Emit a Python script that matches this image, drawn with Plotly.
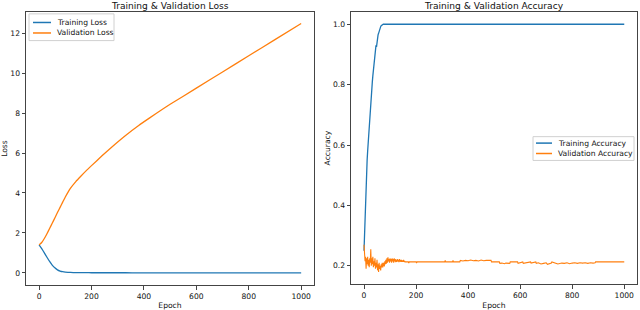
import plotly.graph_objects as go

# ---- data ----
loss_epochs = [0, 10, 20, 30, 40, 50, 60, 70, 80, 90, 100, 110, 120, 140, 160, 180, 200,
               240, 280, 330, 380, 422, 500, 600, 700, 800, 900, 1000]
train_loss = [1.40, 1.21, 1.00, 0.78, 0.57, 0.39, 0.25, 0.15, 0.09, 0.055,
              0.035, 0.025, 0.018, 0.011, 0.008, 0.006, 0.005, 0.004, 0.003, 0.003,
              0.002, 0.002, 0.002, 0.001, 0.001, 0.001, 0.001, 0.001]
val_loss = [1.40, 1.52, 1.72, 1.96, 2.22, 2.48, 2.75, 3.02, 3.28, 3.54,
            3.80, 4.03, 4.24, 4.57, 4.85, 5.12, 5.37, 5.86, 6.33, 6.88,
            7.38, 7.76, 8.44, 9.25, 10.06, 10.87, 11.68, 12.49]

acc_epochs = [0, 2, 4, 6, 8, 10, 12, 14, 16, 18, 20, 22, 24, 26, 28, 30, 32, 34, 36, 38,
              40, 42, 44, 46, 48, 50, 52, 54, 56, 58, 60, 62, 64, 66, 68, 70, 72, 74, 76,
              80, 100, 200, 400, 600, 800, 1000]
train_acc = [0.25, 0.31, 0.37, 0.42, 0.47, 0.51, 0.55, 0.58, 0.61, 0.64,
             0.67, 0.70, 0.72, 0.75, 0.77, 0.79, 0.81, 0.83, 0.85, 0.86,
             0.875, 0.89, 0.91, 0.93, 0.925, 0.945, 0.955, 0.965, 0.97, 0.978,
             0.984, 0.988, 0.992, 0.995, 0.997, 0.998, 0.999, 1.0, 1.0,
             1.0, 1.0, 1.0, 1.0, 1.0, 1.0, 1.0]

# validation accuracy, epochs 0..160 every 2 epochs
val_epochs_early = list(range(0, 161, 2))
val_acc_early = [
    0.270, 0.245, 0.215, 0.230, 0.190, 0.225, 0.205, 0.230, 0.200, 0.220,   # 0-18
    0.195, 0.225, 0.210, 0.255, 0.200, 0.225, 0.205, 0.230, 0.195, 0.215,   # 20-38
    0.200, 0.225, 0.190, 0.210, 0.195, 0.220, 0.185, 0.205, 0.180, 0.210,   # 40-58
    0.190, 0.200, 0.185, 0.205, 0.195, 0.210, 0.195, 0.205, 0.210, 0.198,   # 60-78
    0.215, 0.205, 0.220, 0.207, 0.225, 0.210, 0.228, 0.215, 0.222, 0.210,   # 80-98
    0.225, 0.215, 0.222, 0.210, 0.225, 0.215, 0.222, 0.210, 0.225, 0.215,   # 100-118
    0.222, 0.212, 0.220, 0.213, 0.222, 0.215, 0.220, 0.212, 0.222, 0.214,   # 120-138
    0.220, 0.213, 0.220, 0.213, 0.218, 0.213, 0.220, 0.213, 0.216, 0.213,   # 140-158
    0.213,                                                                  # 160
]
# validation accuracy, later epochs (change points)
val_epochs_late = [
    170, 172, 174, 200, 202, 204, 310, 312, 314, 340,
    342, 344, 368, 370, 380, 390, 400, 410, 420, 430,
    440, 450, 460, 470, 488, 490, 520, 522, 530, 540,
    545, 560, 562, 590, 592, 610, 612, 640, 642, 660,
    662, 670, 680, 690, 700, 705, 720, 722, 740, 745,
    760, 770, 780, 790, 800, 810, 820, 830, 840, 850,
    860, 870, 880, 888, 890, 1000,
]
val_acc_late = [
    0.213, 0.209, 0.213, 0.213, 0.209, 0.213, 0.213, 0.218, 0.213, 0.213,
    0.218, 0.213, 0.213, 0.218, 0.216, 0.218, 0.217, 0.219, 0.217, 0.218,
    0.216, 0.219, 0.217, 0.218, 0.218, 0.213, 0.213, 0.208, 0.209, 0.207,
    0.209, 0.208, 0.213, 0.213, 0.208, 0.213, 0.208, 0.213, 0.209, 0.213,
    0.208, 0.210, 0.206, 0.208, 0.210, 0.205, 0.209, 0.213, 0.209, 0.206,
    0.209, 0.208, 0.210, 0.207, 0.209, 0.210, 0.208, 0.210, 0.209, 0.210,
    0.208, 0.210, 0.209, 0.210, 0.213, 0.213,
]
val_epochs = val_epochs_early + val_epochs_late
val_acc = val_acc_early + val_acc_late

loss_legend = ["Training Loss", "Validation Loss"]
acc_legend = ["Training Accuracy", "Validation Accuracy"]
tick_epochs = [0, 200, 400, 600, 800, 1000]
tick_loss = [0, 2, 4, 6, 8, 10, 12]
tick_acc = [0.2, 0.4, 0.6, 0.8, 1.0]

# ---- figure ----
BLUE = "#1f77b4"
ORANGE = "#ff7f0e"
FONT = "DejaVu Sans"
W, H = 640, 310
FS = 7.6      # tick / label / legend font size
FS_TITLE = 9.1

fig = go.Figure()
fig.add_trace(go.Scatter(x=loss_epochs, y=train_loss, mode="lines", name=loss_legend[0],
                         line=dict(color=BLUE, width=1.3, shape="spline", smoothing=0.5),
                         xaxis="x", yaxis="y", showlegend=False))
fig.add_trace(go.Scatter(x=loss_epochs, y=val_loss, mode="lines", name=loss_legend[1],
                         line=dict(color=ORANGE, width=1.3, shape="spline", smoothing=0.5),
                         xaxis="x", yaxis="y", showlegend=False))
fig.add_trace(go.Scatter(x=acc_epochs, y=train_acc, mode="lines", name=acc_legend[0],
                         line=dict(color=BLUE, width=1.3), xaxis="x2", yaxis="y2",
                         showlegend=False))
fig.add_trace(go.Scatter(x=val_epochs, y=val_acc, mode="lines", name=acc_legend[1],
                         line=dict(color=ORANGE, width=1.1), xaxis="x2", yaxis="y2",
                         showlegend=False))

px = lambda v: v / W
py = lambda v: 1 - v / H

axis_common = dict(showline=True, mirror=True, linecolor="#444", linewidth=1,
                   ticks="outside", ticklen=3.5, tickcolor="#444", tickwidth=0.9,
                   showgrid=False, zeroline=False,
                   tickfont=dict(family=FONT, size=FS, color="#111"))

shapes = []
annotations = []


def add_legend(x0, y0, x1, y1, rows, labels, colors, line_x0, line_x1, text_x):
    shapes.append(dict(type="rect", xref="paper", yref="paper",
                       x0=px(x0), x1=px(x1), y0=py(y1), y1=py(y0),
                       line=dict(color="#d0d0d0", width=1),
                       fillcolor="rgba(255,255,255,0.85)", layer="above"))
    for r, lab, col in zip(rows, labels, colors):
        shapes.append(dict(type="line", xref="paper", yref="paper",
                           x0=px(line_x0), x1=px(line_x1), y0=py(r), y1=py(r),
                           line=dict(color=col, width=1.5), layer="above"))
        annotations.append(dict(text=lab, x=px(text_x), y=py(r), xref="paper", yref="paper",
                                xanchor="left", yanchor="middle", showarrow=False,
                                font=dict(family=FONT, size=FS, color="#111")))


add_legend(29, 14, 114, 41, [22.7, 33.3], loss_legend, [BLUE, ORANGE], 33, 51, 55)
add_legend(533, 138, 634, 162, [144.5, 155], acc_legend, [BLUE, ORANGE], 536, 552, 555.5)

annotations += [
    dict(text="Training & Validation Loss", x=(px(26) + px(314)) / 2, y=py(12),
         xref="paper", yref="paper", xanchor="center", yanchor="bottom", showarrow=False,
         font=dict(family=FONT, size=FS_TITLE, color="#111"), yshift=-1),
    dict(text="Training & Validation Accuracy", x=(px(351) + px(637)) / 2, y=py(12),
         xref="paper", yref="paper", xanchor="center", yanchor="bottom", showarrow=False,
         font=dict(family=FONT, size=FS_TITLE, color="#111"), yshift=-1),
]

fig.update_layout(
    width=W, height=H, margin=dict(l=0, r=0, t=0, b=0),
    paper_bgcolor="white", plot_bgcolor="white",
    font=dict(family=FONT, size=FS, color="#111"),
    showlegend=False,
    xaxis=dict(domain=[px(26), px(314)], anchor="y", range=[-50, 1049],
               tickvals=tick_epochs,
               title=dict(text="Epoch", standoff=4, font=dict(size=FS)), **axis_common),
    yaxis=dict(domain=[py(288), py(12)], anchor="x", range=[-0.62, 13.07],
               tickvals=tick_loss,
               title=dict(text="Loss", standoff=3, font=dict(size=FS)), **axis_common),
    xaxis2=dict(domain=[px(351), px(637)], anchor="y2", range=[-50, 1049],
                tickvals=tick_epochs,
                title=dict(text="Epoch", standoff=4, font=dict(size=FS)), **axis_common),
    yaxis2=dict(domain=[py(287), py(12)], anchor="x2", range=[0.139, 1.041],
                tickvals=tick_acc, tickformat=".1f",
                title=dict(text="Accuracy", standoff=1, font=dict(size=FS)), **axis_common),
    shapes=shapes,
    annotations=annotations,
)

fig.write_html("out.html", config={"displayModeBar": False},
               post_script="document.body.style.margin='0px';document.body.style.padding='0px';")
